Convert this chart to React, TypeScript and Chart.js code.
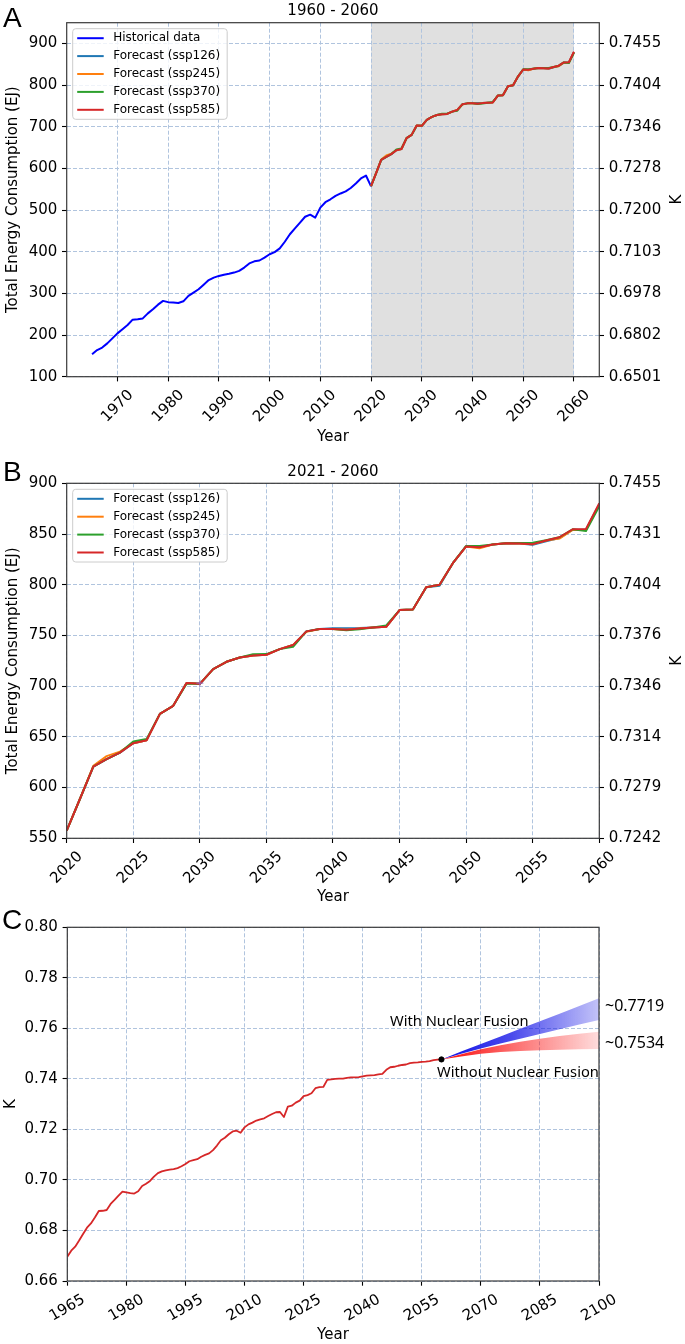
import React, { useEffect, useRef } from 'react';
import { Chart, registerables } from 'chart.js';

Chart.register(...registerables);

// ---------------- data ----------------
const HIST_YEARS = [1965, 1966, 1967, 1968, 1969, 1970, 1971, 1972, 1973, 1974, 1975, 1976, 1977, 1978, 1979, 1980, 1981, 1982, 1983, 1984, 1985, 1986, 1987, 1988, 1989, 1990, 1991, 1992, 1993, 1994, 1995, 1996, 1997, 1998, 1999, 2000, 2001, 2002, 2003, 2004, 2005, 2006, 2007, 2008, 2009, 2010, 2011, 2012, 2013, 2014, 2015, 2016, 2017, 2018, 2019, 2020];
const HIST_EJ = [154, 164, 170, 180, 192, 204, 214, 224, 237, 238, 240, 252, 262, 273, 282, 279, 278, 277, 281, 294, 302, 310, 321, 332, 338, 342, 345, 347, 350, 354, 362, 372, 377, 379, 386, 394, 399, 408, 424, 442, 456, 470, 484, 489, 482, 506, 519, 526, 534, 540, 545, 553, 564, 576, 583, 557];

const FC_YEARS = [2020, 2021, 2022, 2023, 2024, 2025, 2026, 2027, 2028, 2029, 2030, 2031, 2032, 2033, 2034, 2035, 2036, 2037, 2038, 2039, 2040, 2041, 2042, 2043, 2044, 2045, 2046, 2047, 2048, 2049, 2050, 2051, 2052, 2053, 2054, 2055, 2056, 2057, 2058, 2059, 2060];
const SSP126 = [557.6, 589, 620.7, 628, 634.5, 643.8, 646.7, 672.7, 680.6, 703, 702.3, 716.8, 724, 728.3, 730.3, 731, 736.5, 740.5, 754, 756.3, 757.2, 757.2, 757.3, 757.9, 758.5, 775, 775.6, 797.6, 799, 821.2, 837.7, 837, 839.6, 841, 840.6, 839.5, 842.8, 846, 854.2, 854.5, 879.5];
const SSP245 = [557.6, 589, 621.5, 631, 635.5, 643.8, 646.7, 672.7, 680.6, 703, 702.3, 716.8, 724, 728.3, 730.3, 731, 736.5, 740.5, 753.5, 756.3, 756.3, 755.6, 756.9, 757.9, 758.5, 775, 775.6, 797.6, 799.9, 821.2, 837.7, 836, 839.6, 841, 840.6, 840, 843.6, 845.5, 854, 854, 879];
const SSP370 = [557.6, 589, 620.7, 628, 634.5, 645.5, 647.8, 672.7, 680.6, 702.5, 702.3, 716.8, 724, 728.3, 731.5, 731.6, 736.5, 738.8, 754, 756.3, 756.3, 755, 756, 757.9, 759.8, 775, 775.6, 797.6, 799.9, 821.2, 838.2, 838.2, 839.6, 841, 841.2, 841.3, 843.8, 846.8, 854.7, 853, 877.5];
const SSP585 = [557.6, 589, 620.7, 628, 634.5, 643.8, 646.7, 672.7, 680.6, 703, 702.3, 716.8, 724, 728.3, 730.3, 731, 736.5, 740.5, 754, 756.3, 756.3, 755.6, 756.9, 757.9, 758.5, 775, 775.6, 797.6, 799.9, 821.2, 837.7, 837, 839.6, 841, 840.6, 840, 843.6, 846.8, 854.7, 855, 880.3];

const MARK_B_YEAR = [2030];
const MARK_B_VALUE = [703];

const K_YEARS = [1965, 1966, 1967, 1968, 1969, 1970, 1971, 1972, 1973, 1974, 1975, 1976, 1977, 1978, 1979, 1980, 1981, 1982, 1983, 1984, 1985, 1986, 1987, 1988, 1989, 1990, 1991, 1992, 1993, 1994, 1995, 1996, 1997, 1998, 1999, 2000, 2001, 2002, 2003, 2004, 2005, 2006, 2007, 2008, 2009, 2010, 2011, 2012, 2013, 2014, 2015, 2016, 2017, 2018, 2019, 2020, 2021, 2022, 2023, 2024, 2025, 2026, 2027, 2028, 2029, 2030, 2031, 2032, 2033, 2034, 2035, 2036, 2037, 2038, 2039, 2040, 2041, 2042, 2043, 2044, 2045, 2046, 2047, 2048, 2049, 2050, 2051, 2052, 2053, 2054, 2055, 2056, 2057, 2058, 2059, 2060];
const K_VALUES = [0.6696, 0.6720, 0.6736, 0.6760, 0.6786, 0.6811, 0.6828, 0.6851, 0.6877, 0.6878, 0.6881, 0.6905, 0.6921, 0.6938, 0.6954, 0.6951, 0.6948, 0.6946, 0.6955, 0.6976, 0.6985, 0.6996, 0.7013, 0.7027, 0.7034, 0.7038, 0.7041, 0.7043, 0.7047, 0.7054, 0.7063, 0.7074, 0.7078, 0.7082, 0.7092, 0.7099, 0.7105, 0.7118, 0.7136, 0.7157, 0.7167, 0.7181, 0.7192, 0.7195, 0.7187, 0.7208, 0.7220, 0.7227, 0.7235, 0.7240, 0.7244, 0.7253, 0.7261, 0.7268, 0.7269, 0.7249, 0.7290, 0.7294, 0.7306, 0.7314, 0.7332, 0.7336, 0.7343, 0.7363, 0.7367, 0.7368, 0.7396, 0.7398, 0.7400, 0.7401, 0.7401, 0.7404, 0.7406, 0.7406, 0.7407, 0.7410, 0.7413, 0.7414, 0.7415, 0.7418, 0.7420, 0.7436, 0.7446, 0.7448, 0.7452, 0.7455, 0.7457, 0.7462, 0.7464, 0.7465, 0.7467, 0.7468, 0.7470, 0.7474, 0.7476, 0.7477];

const FAN_YEARS = [2060, 2065, 2070, 2075, 2080, 2085, 2090, 2095, 2100];
const FUSION_HIGH = [0.7477, 0.7508, 0.7538, 0.7568, 0.7598, 0.7628, 0.7658, 0.7688, 0.7719];
const FUSION_LOW = [0.7477, 0.7499, 0.7520, 0.7540, 0.7559, 0.7578, 0.7596, 0.7615, 0.7633];
const NOFUSION_HIGH = [0.7477, 0.7498, 0.7517, 0.7533, 0.7547, 0.7559, 0.7570, 0.7579, 0.7587];
const NOFUSION_LOW = [0.7477, 0.7489, 0.7499, 0.7506, 0.7510, 0.7513, 0.7515, 0.7517, 0.7518];
const FAN_ORIGIN_YEAR = [2060];
const FAN_ORIGIN_K = [0.7477];

const SERIES_LABELS = ['Historical data', 'Forecast (ssp126)', 'Forecast (ssp245)', 'Forecast (ssp370)', 'Forecast (ssp585)'];
const SHADE_RANGE = [2020, 2060];

const A_X_TICKS = [1970, 1980, 1990, 2000, 2010, 2020, 2030, 2040, 2050, 2060];
const A_Y_TICKS = [100, 200, 300, 400, 500, 600, 700, 800, 900];
const A_K_LABELS = ['0.6501', '0.6802', '0.6978', '0.7103', '0.7200', '0.7278', '0.7346', '0.7404', '0.7455'];
const B_X_TICKS = [2020, 2025, 2030, 2035, 2040, 2045, 2050, 2055, 2060];
const B_Y_TICKS = [550, 600, 650, 700, 750, 800, 850, 900];
const B_K_LABELS = ['0.7242', '0.7279', '0.7314', '0.7346', '0.7376', '0.7404', '0.7431', '0.7455'];
const C_X_TICKS = [1965, 1980, 1995, 2010, 2025, 2040, 2055, 2070, 2085, 2100];
const C_Y_TICKS = [0.66, 0.68, 0.70, 0.72, 0.74, 0.76, 0.78, 0.80];
const C_Y_LABELS = ['0.66', '0.68', '0.70', '0.72', '0.74', '0.76', '0.78', '0.80'];

// ---------------- styling ----------------
const FONT = "'DejaVu Sans', sans-serif";
const GRID = '#b0c4de';
const COLORS = ['#0000ff', '#1f77b4', '#ff7f0e', '#2ca02c', '#d62728'];
const W = 685;

const pts = (xs: number[], ys: number[]) => xs.map((x, i) => ({ x, y: ys[i] }));

function bottomAxis(min: number, max: number, ticks: number[], rot: number, labelOffset: number, height: number) {
  return {
    type: 'linear', position: 'bottom', axis: 'x', min, max, bounds: 'data',
    afterBuildTicks: (s: any) => { s.ticks = ticks.map((v) => ({ value: v })); },
    afterFit: (s: any) => { s.height = height; },
    grid: { color: GRID, lineWidth: 1, tickLength: 4.7, tickColor: '#000', tickWidth: 1.1, drawTicks: true },
    border: { display: false, dash: [4, 2] },
    ticks: {
      autoSkip: false, minRotation: rot, maxRotation: rot, labelOffset, padding: 5,
      color: '#000', font: { family: FONT, size: 15 }, callback: (v: any) => String(v),
    },
  };
}

function sideAxis(pos: string, min: number, max: number, ticks: number[], labels: string[], width: number, onArea: boolean) {
  return {
    type: 'linear', position: pos, axis: 'y', min, max, bounds: 'data', display: true,
    afterBuildTicks: (s: any) => { s.ticks = ticks.map((v) => ({ value: v })); },
    afterFit: (s: any) => { s.width = width; },
    grid: { color: GRID, lineWidth: 1, drawOnChartArea: onArea, tickLength: 4.7, tickColor: '#000', tickWidth: 1.1, drawTicks: true },
    border: { display: false, dash: [4, 2] },
    ticks: {
      padding: 4.7, color: '#000', font: { family: FONT, size: 15 },
      callback: (_v: any, i: number) => labels[i],
    },
  };
}

type TextItem = { text: string; x: number; y: number; font: string; align?: CanvasTextAlign; baseline?: CanvasTextBaseline; rotate?: number };

function textPlugin(items: TextItem[]) {
  return {
    id: 'texts',
    afterDraw(chart: any) {
      const ctx = chart.ctx;
      items.forEach((t) => {
        ctx.save();
        ctx.font = t.font;
        ctx.fillStyle = '#000';
        ctx.textAlign = t.align || 'left';
        ctx.textBaseline = t.baseline || 'alphabetic';
        ctx.translate(t.x, t.y);
        if (t.rotate) ctx.rotate(t.rotate);
        ctx.fillText(t.text, 0, 0);
        ctx.restore();
      });
    },
  };
}

const framePlugin = {
  id: 'frame',
  afterDatasetsDraw(chart: any) {
    const { ctx, chartArea: a } = chart;
    ctx.save();
    ctx.strokeStyle = '#3a3a3a';
    ctx.lineWidth = 1.2;
    ctx.strokeRect(a.left, a.top, a.right - a.left, a.bottom - a.top);
    ctx.restore();
  },
};

function legendPlugin(indices: number[]) {
  return {
    id: 'customLegend',
    afterDatasetsDraw(chart: any) {
      const { ctx, chartArea } = chart;
      const entries = indices.map((i) => chart.data.datasets[i]);
      const x = chartArea.left + 6;
      const y = chartArea.top + 6;
      const rowH = 17.9;
      const h = 19 + (entries.length - 1) * rowH;
      ctx.save();
      ctx.font = "12px 'DejaVu Sans'";
      let maxW = 0;
      entries.forEach((e: any) => { maxW = Math.max(maxW, ctx.measureText(e.label).width); });
      const w = 40.5 + maxW + 7;
      ctx.beginPath();
      ctx.roundRect(x, y, w, h, 3);
      ctx.fillStyle = 'rgba(255,255,255,0.8)';
      ctx.fill();
      ctx.strokeStyle = '#cccccc';
      ctx.lineWidth = 1;
      ctx.stroke();
      entries.forEach((e: any, i: number) => {
        const cy = y + 9.5 + i * rowH;
        ctx.strokeStyle = e.borderColor;
        ctx.lineWidth = 2;
        ctx.beginPath();
        ctx.moveTo(x + 4.5, cy);
        ctx.lineTo(x + 31, cy);
        ctx.stroke();
        ctx.fillStyle = '#000';
        ctx.textBaseline = 'middle';
        ctx.textAlign = 'left';
        ctx.fillText(e.label, x + 40.5, cy);
      });
      ctx.restore();
    },
  };
}

const shadePlugin = {
  id: 'shade',
  beforeDraw(chart: any) {
    const { ctx, chartArea: a, scales } = chart;
    if (!a || !scales.x) return;
    const x0 = scales.x.getPixelForValue(SHADE_RANGE[0]);
    const x1 = scales.x.getPixelForValue(SHADE_RANGE[1]);
    ctx.save();
    ctx.fillStyle = '#e0e0e0';
    ctx.fillRect(x0, a.top, x1 - x0, a.bottom - a.top);
    ctx.restore();
  },
};

function lineDs(label: string, data: any[], color: string, order: number, width = 2) {
  return {
    label, data, borderColor: color, backgroundColor: color, borderWidth: width,
    pointRadius: 0, tension: 0, fill: false, order, yAxisID: 'y', xAxisID: 'x',
    borderJoinStyle: 'round',
  };
}

function forecastSets() {
  return [
    lineDs(SERIES_LABELS[1], pts(FC_YEARS, SSP126), COLORS[1], 4),
    lineDs(SERIES_LABELS[2], pts(FC_YEARS, SSP245), COLORS[2], 3),
    lineDs(SERIES_LABELS[3], pts(FC_YEARS, SSP370), COLORS[3], 2),
    lineDs(SERIES_LABELS[4], pts(FC_YEARS, SSP585), COLORS[4], 1),
  ];
}

const baseOptions = {
  responsive: false,
  animation: false,
  events: [],
  plugins: { legend: { display: false }, tooltip: { enabled: false }, title: { display: false } },
};

const TITLE_FONT = "15px 'DejaVu Sans'";
const LETTER_FONT = "28px 'Liberation Sans'";
const NOTE_FONT = "14.7px 'Noto Sans'";
const VALUE_FONT = "16px 'Noto Sans'";

function makeA(): any {
  return {
    type: 'line',
    data: {
      datasets: [lineDs(SERIES_LABELS[0], pts(HIST_YEARS, HIST_EJ), COLORS[0], 5), ...forecastSets()],
    },
    options: {
      ...baseOptions,
      layout: { padding: { top: 22.7, left: 0, right: 0, bottom: 0 } },
      scales: {
        x: bottomAxis(1960, 2065, A_X_TICKS, 45, 13.5, 450 - 376.7),
        y: sideAxis('left', 100, 950, A_Y_TICKS, A_Y_TICKS.map(String), 66.7, true),
        yK: sideAxis('right', 100, 950, A_Y_TICKS, A_K_LABELS, W - 599.3, false),
      },
    },
    plugins: [
      shadePlugin,
      framePlugin,
      legendPlugin([0, 1, 2, 3, 4]),
      textPlugin([
        { text: 'A', x: 3, y: 27, font: LETTER_FONT },
        { text: '1960 - 2060', x: 333, y: 15.2, font: TITLE_FONT, align: 'center' },
        { text: 'Total Energy Consumption (EJ)', x: 13, y: 199.7, font: TITLE_FONT, align: 'center', baseline: 'middle', rotate: -Math.PI / 2 },
        { text: 'K', x: 677, y: 199.7, font: TITLE_FONT, align: 'center', baseline: 'middle', rotate: -Math.PI / 2 },
        { text: 'Year', x: 333, y: 441, font: TITLE_FONT, align: 'center' },
      ]),
    ],
  };
}

function makeB(): any {
  return {
    type: 'line',
    data: {
      datasets: [
        ...forecastSets(),
        {
          label: 'marker', data: pts(MARK_B_YEAR, MARK_B_VALUE), showLine: false, pointStyle: 'cross',
          pointRadius: 3.5, borderColor: '#9467bd', pointBorderColor: '#9467bd', pointBorderWidth: 1, order: 0, yAxisID: 'y', xAxisID: 'x',
        },
      ],
    },
    options: {
      ...baseOptions,
      layout: { padding: { top: 33.3, left: 0, right: 0, bottom: 0 } },
      scales: {
        x: bottomAxis(2020, 2060, B_X_TICKS, 45, 13.5, 455 - 388.3),
        y: sideAxis('left', 550, 900, B_Y_TICKS, B_Y_TICKS.map(String), 66.7, true),
        yK: sideAxis('right', 550, 900, B_Y_TICKS, B_K_LABELS, W - 599.3, false),
      },
    },
    plugins: [
      framePlugin,
      legendPlugin([0, 1, 2, 3]),
      textPlugin([
        { text: 'B', x: 3, y: 31, font: LETTER_FONT },
        { text: '2021 - 2060', x: 333, y: 25.8, font: TITLE_FONT, align: 'center' },
        { text: 'Total Energy Consumption (EJ)', x: 13, y: 210.8, font: TITLE_FONT, align: 'center', baseline: 'middle', rotate: -Math.PI / 2 },
        { text: 'K', x: 677, y: 210.8, font: TITLE_FONT, align: 'center', baseline: 'middle', rotate: -Math.PI / 2 },
        { text: 'Year', x: 333, y: 451, font: TITLE_FONT, align: 'center' },
      ]),
    ],
  };
}

function fanGradient(rgb: string, midAlpha: number, endAlpha: number) {
  return (context: any) => {
    const chart = context.chart;
    const xs = chart.scales && chart.scales.x;
    if (!chart.chartArea || !xs) return `rgba(${rgb},0.6)`;
    const x0 = xs.getPixelForValue(FAN_YEARS[0]);
    const x1 = xs.getPixelForValue(FAN_YEARS[FAN_YEARS.length - 1]);
    const g = chart.ctx.createLinearGradient(x0, 0, x1, 0);
    g.addColorStop(0, `rgba(${rgb},1)`);
    g.addColorStop(0.45, `rgba(${rgb},${midAlpha})`);
    g.addColorStop(1, `rgba(${rgb},${endAlpha})`);
    return g;
  };
}

function fanDs(label: string, ys: number[], fill: any, bg: any, order: number) {
  return {
    label, data: pts(FAN_YEARS, ys), borderColor: 'rgba(0,0,0,0)', borderWidth: 0, pointRadius: 0,
    tension: 0, fill, backgroundColor: bg, order, yAxisID: 'y', xAxisID: 'x',
  };
}

function makeC(): any {
  return {
    type: 'line',
    data: {
      datasets: [
        lineDs('K', pts(K_YEARS, K_VALUES), '#d62728', 1, 1.8),
        fanDs('With Nuclear Fusion', FUSION_HIGH, '+1', fanGradient('15,15,230', 0.75, 0.25), 3),
        fanDs('With Nuclear Fusion (low)', FUSION_LOW, false, 'rgba(0,0,0,0)', 3),
        fanDs('Without Nuclear Fusion', NOFUSION_HIGH, '+1', fanGradient('250,10,10', 0.6, 0.14), 2),
        fanDs('Without Nuclear Fusion (low)', NOFUSION_LOW, false, 'rgba(0,0,0,0)', 2),
        {
          label: 'origin', data: pts(FAN_ORIGIN_YEAR, FAN_ORIGIN_K), showLine: false, pointRadius: 2.6,
          pointBackgroundColor: '#000', pointBorderColor: '#000', order: 0, yAxisID: 'y', xAxisID: 'x',
        },
      ],
    },
    options: {
      ...baseOptions,
      layout: { padding: { top: 22.3, left: 0, right: W - 599, bottom: 0 } },
      scales: {
        x: bottomAxis(1965, 2100, C_X_TICKS, 30, 16.5, 439 - 376),
        y: sideAxis('left', 0.66, 0.80, C_Y_TICKS, C_Y_LABELS, 67.3, true),
      },
    },
    plugins: [
      framePlugin,
      textPlugin([
        { text: 'C', x: 2, y: 24, font: LETTER_FONT },
        { text: 'K', x: 11, y: 199, font: TITLE_FONT, align: 'center', baseline: 'middle', rotate: -Math.PI / 2 },
        { text: 'Year', x: 333, y: 434, font: TITLE_FONT, align: 'center' },
        { text: 'With Nuclear Fusion', x: 390, y: 120.7, font: NOTE_FONT },
        { text: 'Without Nuclear Fusion', x: 437, y: 171.7, font: NOTE_FONT },
        { text: '~0.7719', x: 605, y: 105.7, font: VALUE_FONT },
        { text: '~0.7534', x: 605, y: 143, font: VALUE_FONT },
      ]),
    ],
  };
}

function ChartCanvas({ top, height, make }: { top: number; height: number; make: () => any }) {
  const ref = useRef<HTMLCanvasElement | null>(null);
  useEffect(() => {
    if (!ref.current) return;
    const chart = new Chart(ref.current, make());
    return () => chart.destroy();
  }, []);
  return (
    <canvas
      ref={ref}
      width={W}
      height={height}
      style={{ position: 'absolute', left: 0, top, width: W, height, display: 'block' }}
    />
  );
}

export default function App() {
  return (
    <div style={{ position: 'absolute', left: 0, top: 0, width: W, height: 1344, background: '#ffffff', overflow: 'hidden' }}>
      <ChartCanvas top={0} height={450} make={makeA} />
      <ChartCanvas top={450} height={455} make={makeB} />
      <ChartCanvas top={905} height={439} make={makeC} />
    </div>
  );
}
